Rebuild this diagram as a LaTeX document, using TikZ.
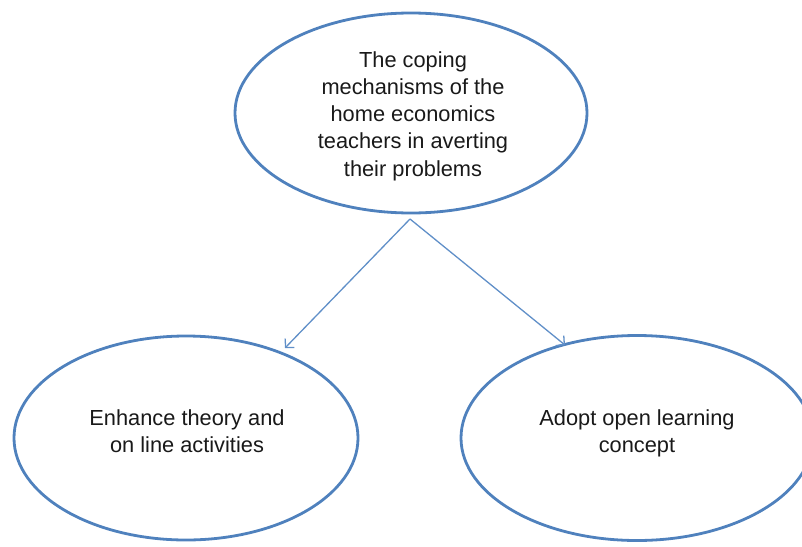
\documentclass[tikz,border=0pt]{standalone}
\usepackage{fontspec}
\setmainfont{Liberation Sans}
\usetikzlibrary{arrows.meta,shapes.geometric}
\definecolor{ellblue}{RGB}{79,129,189}
\definecolor{arrblue}{RGB}{96,143,200}
\begin{document}
\begin{tikzpicture}[x=1pt,y=-1pt,
  oval/.style={draw=ellblue,line width=2.8pt,ellipse,inner sep=0pt},
  lbl/.style={align=center,text=black!90,font=\fontsize{21.8}{27.2}\selectfont,inner sep=0pt},
  conn/.style={draw=arrblue,line width=1.3pt,-{Straight Barb[length=6pt,width=13pt,line width=1.3pt]}}]
\useasboundingbox (0,0) rectangle (802,546);
\node[oval,minimum width=352pt,minimum height=200pt] (top) at (411,113) {};
\node[oval,minimum width=344pt,minimum height=204pt] (left) at (186,438) {};
\node[oval,minimum width=352pt,minimum height=205pt] (right) at (637,438) {};
\node[lbl] (toptext) at (413,116) {The coping\\mechanisms of the\\home economics\\teachers in averting\\their problems};
\node[lbl] (lefttext) at (187,431) {Enhance theory and\\on line activities};
\node[lbl] (righttext) at (637,433) {Adopt open learning\\concept};
\coordinate (src) at (410,219);
\coordinate (ltip) at (285,348);
\coordinate (rtip) at (565,345);
\draw[conn] (src) -- (ltip);
\draw[conn] (src) -- (rtip);
\end{tikzpicture}
\end{document}
